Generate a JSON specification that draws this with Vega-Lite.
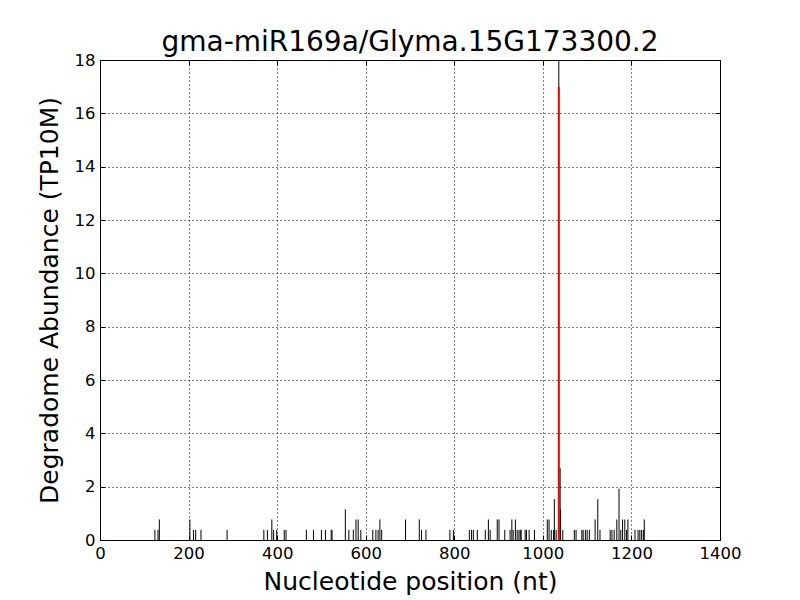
{
  "$schema": "https://vega.github.io/schema/vega-lite/v6.json",
  "width": 620,
  "height": 480,
  "autosize": {"type": "none"},
  "padding": {"left": 100, "top": 60, "right": 80, "bottom": 60},
  "background": "white",
  "config": {
    "font": "DejaVu Sans",
    "view": {"stroke": "black", "strokeWidth": 1},
    "axis": {
      "labelFont": "DejaVu Sans",
      "titleFont": "DejaVu Sans",
      "labelFontSize": 16.5,
      "titleFontSize": 25,
      "titleFontWeight": "normal",
      "labelColor": "black",
      "titleColor": "black",
      "domain": false,
      "tickColor": "black",
      "tickSize": -5,
      "tickWidth": 1,
      "grid": true,
      "gridColor": "black",
      "gridOpacity": 1,
      "gridDash": [1, 3],
      "gridWidth": 1
    }
  },
  "title": {
    "text": "gma-miR169a/Glyma.15G173300.2",
    "fontSize": 28,
    "fontWeight": "normal",
    "font": "DejaVu Sans",
    "color": "black",
    "offset": -5
  },
  "resolve": {"axis": {"x": "independent", "y": "independent"}},
  "layer": [
    {
      "data": {"values": [
        {"pos": 124, "val": 0.38}, {"pos": 131, "val": 0.38}, {"pos": 134, "val": 0.77},
        {"pos": 203, "val": 0.77}, {"pos": 211, "val": 0.38}, {"pos": 216, "val": 0.38}, {"pos": 228, "val": 0.38},
        {"pos": 287, "val": 0.38},
        {"pos": 370, "val": 0.38}, {"pos": 378, "val": 0.38}, {"pos": 388, "val": 0.77}, {"pos": 392, "val": 0.38}, {"pos": 399, "val": 0.38}, {"pos": 416, "val": 0.38}, {"pos": 420, "val": 0.38},
        {"pos": 466, "val": 0.38}, {"pos": 482, "val": 0.38}, {"pos": 500, "val": 0.38}, {"pos": 509, "val": 0.38}, {"pos": 522, "val": 0.38}, {"pos": 524, "val": 0.38},
        {"pos": 554, "val": 1.15}, {"pos": 562, "val": 0.38}, {"pos": 572, "val": 0.38}, {"pos": 578, "val": 0.77}, {"pos": 583, "val": 0.77}, {"pos": 589, "val": 0.38},
        {"pos": 616, "val": 0.38}, {"pos": 623, "val": 0.38}, {"pos": 628, "val": 0.38}, {"pos": 632, "val": 0.77}, {"pos": 636, "val": 0.38},
        {"pos": 690, "val": 0.77}, {"pos": 721, "val": 0.77}, {"pos": 726, "val": 0.38}, {"pos": 736, "val": 0.38},
        {"pos": 790, "val": 0.38}, {"pos": 798, "val": 0.38},
        {"pos": 834, "val": 0.38}, {"pos": 839, "val": 0.38}, {"pos": 843, "val": 0.38}, {"pos": 852, "val": 0.38},
        {"pos": 870, "val": 0.38}, {"pos": 877, "val": 0.77}, {"pos": 881, "val": 0.38}, {"pos": 897, "val": 0.77}, {"pos": 901, "val": 0.77}, {"pos": 914, "val": 0.38},
        {"pos": 926, "val": 0.38}, {"pos": 930, "val": 0.77}, {"pos": 933, "val": 0.38}, {"pos": 938, "val": 0.77}, {"pos": 942, "val": 0.38}, {"pos": 946, "val": 0.38}, {"pos": 949, "val": 0.38}, {"pos": 951, "val": 0.38}, {"pos": 960, "val": 0.38}, {"pos": 963, "val": 0.38}, {"pos": 969, "val": 0.38}, {"pos": 981, "val": 0.38},
        {"pos": 1010, "val": 0.77}, {"pos": 1014, "val": 0.77}, {"pos": 1019, "val": 0.38}, {"pos": 1024, "val": 0.38}, {"pos": 1026, "val": 1.53}, {"pos": 1030, "val": 0.38}, {"pos": 1036, "val": 18.5}, {"pos": 1039, "val": 2.69}, {"pos": 1040, "val": 1.15}, {"pos": 1045, "val": 0.38},
        {"pos": 1071, "val": 0.38}, {"pos": 1075, "val": 0.38}, {"pos": 1088, "val": 0.38}, {"pos": 1091, "val": 0.38}, {"pos": 1096, "val": 0.38}, {"pos": 1100, "val": 0.38}, {"pos": 1105, "val": 0.38}, {"pos": 1118, "val": 0.77}, {"pos": 1124, "val": 1.53}, {"pos": 1129, "val": 0.38},
        {"pos": 1152, "val": 0.38}, {"pos": 1156, "val": 0.38}, {"pos": 1161, "val": 0.38}, {"pos": 1167, "val": 0.77}, {"pos": 1172, "val": 1.92}, {"pos": 1176, "val": 0.38}, {"pos": 1180, "val": 0.77}, {"pos": 1185, "val": 0.77}, {"pos": 1189, "val": 0.38}, {"pos": 1192, "val": 0.77},
        {"pos": 1208, "val": 0.38}, {"pos": 1215, "val": 0.38}, {"pos": 1219, "val": 0.38}, {"pos": 1223, "val": 0.38}, {"pos": 1227, "val": 0.38}, {"pos": 1229, "val": 0.77}
      ]},
      "mark": {"type": "rule", "color": "black", "strokeWidth": 1, "clip": true},
      "encoding": {
        "x": {"field": "pos", "type": "quantitative",
              "scale": {"domain": [0, 1400], "nice": false},
              "axis": {"values": [0, 200, 400, 600, 800, 1000, 1200, 1400], "format": "d", "title": "Nucleotide position (nt)", "labelPadding": 10, "titlePadding": 8, "labelFlush": false}},
        "y": {"field": "val", "type": "quantitative",
              "scale": {"domain": [0, 18], "nice": false},
              "axis": {"values": [0, 2, 4, 6, 8, 10, 12, 14, 16, 18], "title": "Degradome Abundance (TP10M)", "labelPadding": 10, "titlePadding": 12, "labelFlush": false}},
        "y2": {"datum": 0}
      }
    },
    {
      "data": {"values": [{"pos": 1036, "val": 17}]},
      "mark": {"type": "rule", "color": "red", "strokeWidth": 2, "clip": true},
      "encoding": {
        "x": {"field": "pos", "type": "quantitative",
              "axis": {"orient": "top", "labels": false, "title": null, "grid": false, "values": [0, 200, 400, 600, 800, 1000, 1200, 1400]}},
        "y": {"field": "val", "type": "quantitative",
              "axis": {"orient": "right", "labels": false, "title": null, "grid": false, "values": [0, 2, 4, 6, 8, 10, 12, 14, 16, 18]}},
        "y2": {"datum": 0}
      }
    }
  ]
}
